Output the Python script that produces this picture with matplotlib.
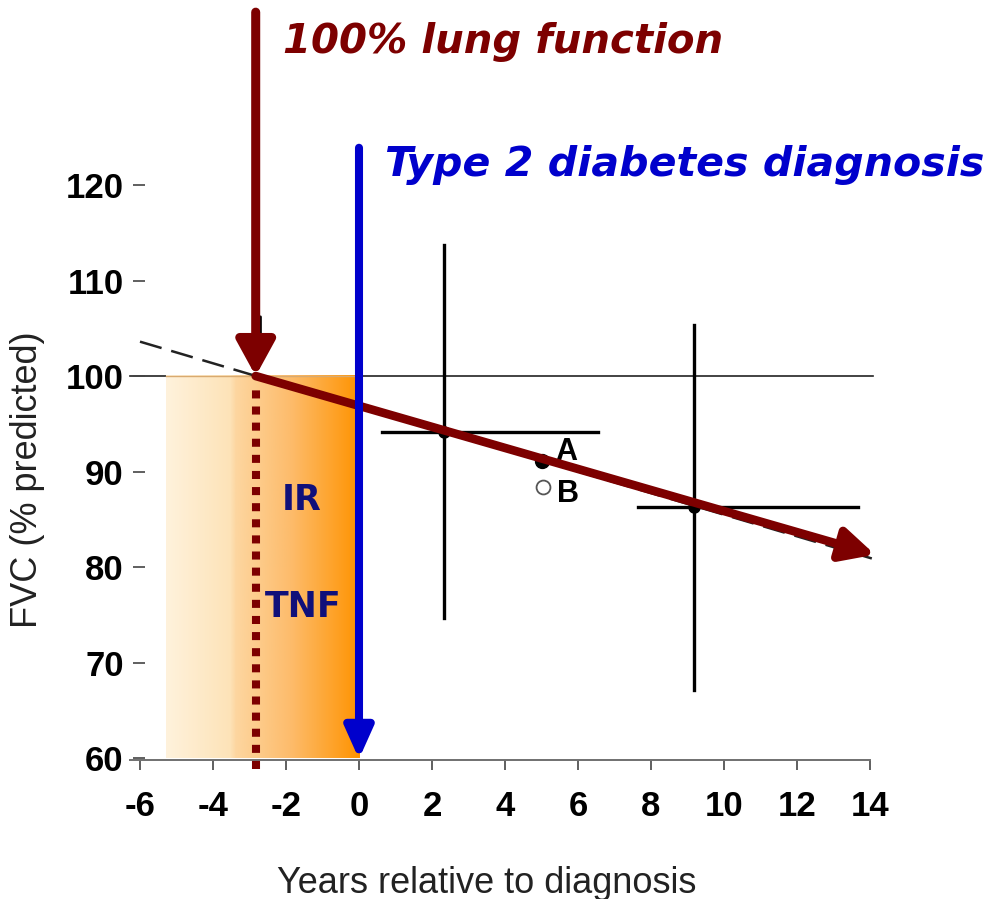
import numpy as np
import matplotlib
matplotlib.use("Agg")
import matplotlib.pyplot as plt
from matplotlib import font_manager
from matplotlib.colors import LinearSegmentedColormap

# FVC (% predicted) against years relative to type 2 diabetes diagnosis
group_x = [2.33, 9.18]
group_y = [94.1, 86.3]
group_x_range = [(0.63, 6.55), (7.64, 13.67)]
group_y_range = [(74.7, 113.7), (67.1, 105.3)]

point_labels = ["A", "B"]
point_x = [5.01, 5.04]
point_y = [91.1, 88.4]

# regression line (dashed) and the drawn decline arrow
fit_x = [-6.0, 14.05]
fit_y = [103.6, 80.9]
onset_year = -2.83
decline_end = (14.14, 81.3)
diagnosis_year = 0.0

xticks = [-6, -4, -2, 0, 2, 4, 6, 8, 10, 12, 14]
yticks = [60, 70, 80, 90, 100, 110, 120]

names = {f.name for f in font_manager.fontManager.ttflist}
axis_font = "Liberation Sans Narrow" if "Liberation Sans Narrow" in names else "Liberation Sans"
plt.rcParams["font.family"] = axis_font

DARK_RED = "#7d0000"
BLUE = "#0000cc"
NAVY = "#10107a"

fig = plt.figure(figsize=(9.9, 8.99), dpi=100)
ax = fig.add_axes([0.13035, 0.1546, 0.7595, 0.6396])
ax.set_xlim(-6.3, 14.3)
ax.set_ylim(59.8, 120)

# axes styling: no left spine, bottom line only across the data range
ax.spines[["top", "right", "left"]].set_visible(False)
ax.spines["left"].set_position(("data", -5.86))
ax.spines["bottom"].set_bounds(-6.27, 14)
ax.spines["bottom"].set_color("#707070")
ax.spines["bottom"].set_linewidth(1.4)
ax.set_xticks(xticks)
ax.set_xticklabels([str(t) for t in xticks], fontsize=25, fontweight="bold")
ax.set_yticks(yticks)
ax.set_yticklabels([str(t) for t in yticks], fontsize=25, fontweight="bold")
ax.tick_params(axis="y", length=8.5, width=1.2, pad=7, color="#444444")
ax.tick_params(axis="x", length=7.5, width=1.2, pad=14, color="#444444")
ax.set_xlabel("Years relative to diagnosis", fontsize=26, color="#222222")
ax.set_ylabel("FVC (% predicted)", fontsize=26, color="#222222")
ax.xaxis.set_label_coords(0.476, -0.184)
ax.yaxis.set_label_coords(-0.112, 0.487)

# reference line at 100 %
ax.plot([-6.27, 14.08], [100, 100], color="#222222", lw=1.2, zorder=1)

# shaded pre-diagnosis window
cmap = LinearSegmentedColormap.from_list(
    "prediag",
    [(0.0, "#fff2dc"), (0.33, "#fde3b8"), (0.36, "#fdd6a0"),
     (0.65, "#fdbb6a"), (1.0, "#ff9300")])
grad = np.linspace(0, 1, 256).reshape(1, -1)
ax.imshow(grad, cmap=cmap, extent=[-5.3, diagnosis_year, 60, 100],
          aspect="auto", origin="lower", zorder=2)
ax.plot([-5.3, diagnosis_year], [100, 100], color="#d9aa70", lw=1.0, zorder=2.5)

# group means with ranges
for gx, gy, (x0, x1), (y0, y1) in zip(group_x, group_y, group_x_range, group_y_range):
    ax.plot([x0, x1], [gy, gy], color="black", lw=2.4, zorder=3)
    ax.plot([gx, gx], [y0, y1], color="black", lw=2.4, zorder=3)
    ax.plot(gx, gy, "o", color="black", ms=8, zorder=3)

ax.plot(point_x[0], point_y[0], "o", color="black", ms=10, zorder=3)
ax.plot(point_x[1], point_y[1], "o", mfc="white", mec="#555555", mew=1.3, ms=10, zorder=3)
for lab, px, py, dy in zip(point_labels, point_x, point_y, [0.9, -0.7]):
    ax.text(px + 0.38, py + dy, lab, fontsize=22, fontweight="bold",
            family="Liberation Sans", ha="left", va="center", zorder=3)

# dashed regression line
ax.plot(fit_x, fit_y, color="#222222", lw=1.8, dashes=(9, 4), zorder=3)

# dotted marker at onset of decline
ax.plot([onset_year, onset_year], [58.9, 99.2], color=DARK_RED, lw=5.8,
        linestyle=(0, (1, 1)), clip_on=False, zorder=4)

# small black arrow from the source figure, sitting behind the red one
ax.annotate("", xy=(-2.7, 101.3), xytext=(-2.7, 106.2),
            arrowprops=dict(arrowstyle="-|>,head_length=10,head_width=5",
                            mutation_scale=1, color="black", lw=2,
                            shrinkA=0, shrinkB=0),
            annotation_clip=False, zorder=4)

# decline arrow
ax.annotate("", xy=decline_end, xytext=(onset_year, 100),
            arrowprops=dict(arrowstyle="-|>,head_length=20,head_width=10",
                            mutation_scale=1, color=DARK_RED, lw=6.2,
                            shrinkA=0, shrinkB=0),
            annotation_clip=False, zorder=6)

# "100 % lung function" arrow
ax.annotate("", xy=(onset_year, 100), xytext=(onset_year, 138.1),
            arrowprops=dict(arrowstyle="-|>,head_length=21,head_width=11.5",
                            mutation_scale=1, color=DARK_RED, lw=6.5,
                            shrinkA=0, shrinkB=0),
            annotation_clip=False, zorder=7)

# diagnosis arrow
ax.annotate("", xy=(diagnosis_year, 59.9), xytext=(diagnosis_year, 123.9),
            arrowprops=dict(arrowstyle="-|>,head_length=19,head_width=8.5",
                            mutation_scale=1, color=BLUE, lw=5.8,
                            shrinkA=0, shrinkB=0),
            annotation_clip=False, zorder=7)

title_font = dict(family="DejaVu Sans", fontweight="bold", fontstyle="oblique")
ax.text(-2.08, 135.0, "100% lung function", color=DARK_RED, fontsize=29,
        ha="left", va="center", clip_on=False, **title_font)
ax.text(0.71, 122.1, "Type 2 diabetes diagnosis", color=BLUE, fontsize=29.6,
        ha="left", va="center", clip_on=False, **title_font)

ax.text(-1.56, 87.0, "IR", color=NAVY, fontsize=25, fontweight="bold",
        family="DejaVu Sans", ha="center", va="center", zorder=5)
ax.text(-1.53, 75.8, "TNF", color=NAVY, fontsize=25, fontweight="bold",
        family="DejaVu Sans", ha="center", va="center", zorder=5)

fig.savefig("out.png", dpi=100)
